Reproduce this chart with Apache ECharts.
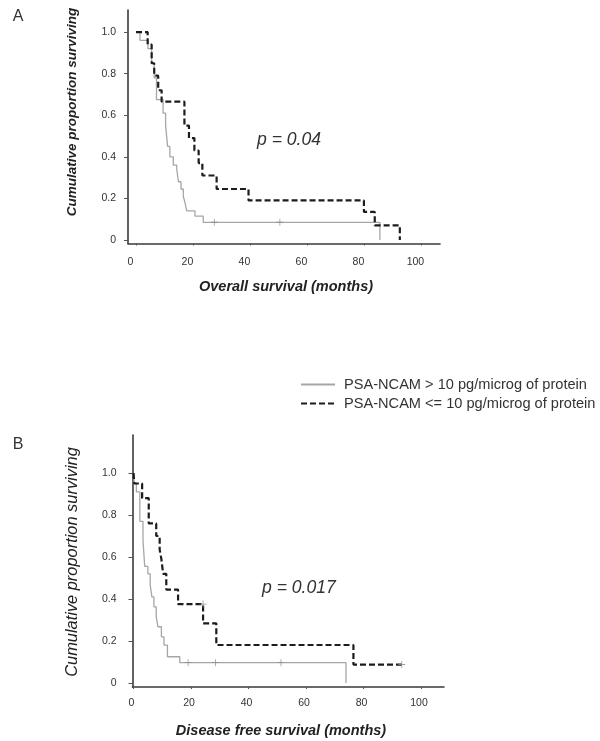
<!DOCTYPE html>
<html><head><meta charset="utf-8">
<script src="https://cdn.jsdelivr.net/npm/echarts@6/dist/echarts.min.js"></script>
<style>html,body{margin:0;padding:0;background:#fff}#c{width:600px;height:741px}</style>
</head><body><div id="c"></div>
<script>
// tick values
const xTicks = [0, 20, 40, 60, 80, 100];
const yTicks = [0, 0.2, 0.4, 0.6, 0.8, 1.0];
const seriesNames = ['PSA-NCAM > 10 pg/microg of protein', 'PSA-NCAM <= 10 pg/microg of protein'];

// Panel A: overall survival (months, proportion)
const osHighTime = [0, 1.4, 4.2, 5.5, 6.4, 7.2, 9.5, 10.4, 11.1, 11.9, 13.1, 14.3, 14.9, 15.8, 16.6, 17.2, 17.8, 20.7, 23.6, 85.6];
const osHighSurv = [1.0, 0.96, 0.92, 0.85, 0.78, 0.675, 0.61, 0.55, 0.45, 0.40, 0.36, 0.34, 0.28, 0.245, 0.21, 0.18, 0.14, 0.115, 0.085, 0];
const osHighCensorTime = [27.5, 50.5];
const osHighCensorSurv = [0.085, 0.085];
const osLowTime = [0, 4.1, 5.5, 6.4, 7.8, 9.0, 17.0, 18.6, 20.5, 22.0, 23.3, 28.3, 39.5, 80.0, 83.8, 92.6];
const osLowSurv = [1.0, 0.94, 0.85, 0.79, 0.72, 0.665, 0.55, 0.49, 0.43, 0.37, 0.31, 0.245, 0.19, 0.135, 0.07, 0];

// Panel B: disease free survival
const dfsHighTime = [0, 0.3, 1.0, 2.2, 3.3, 3.9, 5.0, 5.8, 6.4, 7.1, 7.9, 8.5, 9.7, 10.6, 11.8, 16.1, 73.9];
const dfsHighSurv = [1.0, 0.95, 0.91, 0.77, 0.68, 0.555, 0.52, 0.467, 0.41, 0.363, 0.316, 0.268, 0.22, 0.18, 0.125, 0.097, 0];
const dfsHighCensorTime = [19.0, 28.5, 51.3];
const dfsHighCensorSurv = [0.097, 0.097, 0.097];
const dfsLowTime = [0, 0.3, 3.0, 5.3, 7.9, 9.1, 9.7, 10.3, 11.4, 15.5, 24.2, 28.8, 76.5, 93.3];
const dfsLowSurv = [1.0, 0.95, 0.88, 0.76, 0.70, 0.635, 0.59, 0.52, 0.445, 0.376, 0.284, 0.181, 0.088, 0.088];
const dfsLowCensorTime = [24.2, 93.3];
const dfsLowCensorSurv = [0.376, 0.088];

const zip = (a, b) => a.map((t, i) => [t, b[i]]);
const grayLine = { color: '#a6a6a6', width: 1.3 };
const darkLine = { color: '#1c1c1c', width: 2.2, type: [6, 3] };
const plus = 'path://M4.4,0H5.6V4.4H10V5.6H5.6V10H4.4V5.6H0V4.4H4.4Z';

function xAxis(idx, min, max, pad, margin) {
  return {
    type: 'value', gridIndex: idx, min: min, max: max,
    splitLine: { show: false },
    axisLine: { show: true, onZero: false, lineStyle: { color: '#3a3a3a', width: 1.6 } },
    axisTick: { show: true, customValues: xTicks, length: 2, lineStyle: { color: '#555' } },
    axisLabel: { customValues: xTicks, margin: margin, color: '#333', fontSize: 10.5,
      fontFamily: 'Liberation Sans', padding: [0, pad, 0, 0] }
  };
}
function yAxis(idx, min, max, margin) {
  return {
    type: 'value', gridIndex: idx, min: min, max: max,
    splitLine: { show: false },
    axisLine: { show: true, onZero: false, lineStyle: { color: '#3a3a3a', width: 1.6 } },
    axisTick: { show: true, customValues: yTicks, length: 4, lineStyle: { color: '#555' } },
    axisLabel: { customValues: yTicks, margin: margin, color: '#333', fontSize: 10.5,
      fontFamily: 'Liberation Sans', formatter: v => (v === 0 ? '0' : v.toFixed(1)) }
  };
}

const chart = echarts.init(document.getElementById('c'), null, { renderer: 'canvas' });
chart.setOption({
  animation: false,
  backgroundColor: '#fff',
  grid: [
    { left: 128, top: 10, width: 312, height: 233.5 },
    { left: 132.5, top: 435, width: 311.5, height: 252 }
  ],
  xAxis: [xAxis(0, -2.8, 106.7, 11, 13), xAxis(1, -0.35, 108, 4, 11)],
  yAxis: [yAxis(0, -0.017, 1.106, 12), yAxis(1, -0.019, 1.181, 16)],
  legend: {
    data: seriesNames, orient: 'vertical', left: 300, top: 377, padding: 0,
    itemWidth: 34, itemHeight: 14, itemGap: 4,
    itemStyle: { opacity: 0, color: 'transparent', borderWidth: 0 },
    textStyle: { fontSize: 14.6, color: '#333', fontFamily: 'Liberation Sans', padding: [0, 0, 0, 4] }
  },
  graphic: [
    { type: 'text', x: 18, y: 17, style: { text: 'A', font: '16px "Liberation Sans"', fill: '#333', textAlign: 'center', textVerticalAlign: 'middle' } },
    { type: 'text', x: 18, y: 445, style: { text: 'B', font: '16px "Liberation Sans"', fill: '#333', textAlign: 'center', textVerticalAlign: 'middle' } },
    { type: 'text', x: 72, y: 112, rotation: Math.PI / 2, style: { text: 'Cumulative proportion surviving', font: 'italic bold 13.5px "Liberation Sans"', fill: '#222', textAlign: 'center', textVerticalAlign: 'middle' } },
    { type: 'text', x: 72, y: 562, rotation: Math.PI / 2, style: { text: 'Cumulative proportion surviving', font: 'italic 16.4px "Liberation Sans"', fill: '#222', textAlign: 'center', textVerticalAlign: 'middle' } },
    { type: 'text', x: 286, y: 287, style: { text: 'Overall survival (months)', font: 'italic bold 14.5px "Liberation Sans"', fill: '#222', textAlign: 'center', textVerticalAlign: 'middle' } },
    { type: 'text', x: 281, y: 731, style: { text: 'Disease free survival (months)', font: 'italic bold 14.5px "Liberation Sans"', fill: '#222', textAlign: 'center', textVerticalAlign: 'middle' } },
    { type: 'text', x: 257, y: 140, style: { text: 'p = 0.04', font: 'italic 17.6px "Liberation Sans"', fill: '#333', textAlign: 'left', textVerticalAlign: 'middle' } },
    { type: 'text', x: 262, y: 588, style: { text: 'p = 0.017', font: 'italic 17.6px "Liberation Sans"', fill: '#333', textAlign: 'left', textVerticalAlign: 'middle' } }
  ],
  series: [
    { name: seriesNames[0], type: 'line', step: 'end', xAxisIndex: 0, yAxisIndex: 0, symbol: 'none', lineStyle: grayLine, itemStyle: { color: '#a6a6a6' }, data: zip(osHighTime, osHighSurv), z: 2 },
    { name: seriesNames[1], type: 'line', step: 'end', xAxisIndex: 0, yAxisIndex: 0, symbol: 'none', lineStyle: darkLine, itemStyle: { color: '#1c1c1c' }, data: zip(osLowTime, osLowSurv), z: 3 },
    { name: 'censorA', type: 'scatter', xAxisIndex: 0, yAxisIndex: 0, symbol: plus, symbolSize: 7, itemStyle: { color: '#8a8a8a' }, data: zip(osHighCensorTime, osHighCensorSurv), z: 4 },
    { name: seriesNames[0], type: 'line', step: 'end', xAxisIndex: 1, yAxisIndex: 1, symbol: 'none', lineStyle: grayLine, itemStyle: { color: '#a6a6a6' }, data: zip(dfsHighTime, dfsHighSurv), z: 2 },
    { name: seriesNames[1], type: 'line', step: 'end', xAxisIndex: 1, yAxisIndex: 1, symbol: 'none', lineStyle: darkLine, itemStyle: { color: '#1c1c1c' }, data: zip(dfsLowTime, dfsLowSurv), z: 3 },
    { name: 'censorB', type: 'scatter', xAxisIndex: 1, yAxisIndex: 1, symbol: plus, symbolSize: 7, itemStyle: { color: '#8a8a8a' }, data: zip(dfsHighCensorTime, dfsHighCensorSurv).concat(zip(dfsLowCensorTime, dfsLowCensorSurv)), z: 4 }
  ]
});
</script></body></html>
